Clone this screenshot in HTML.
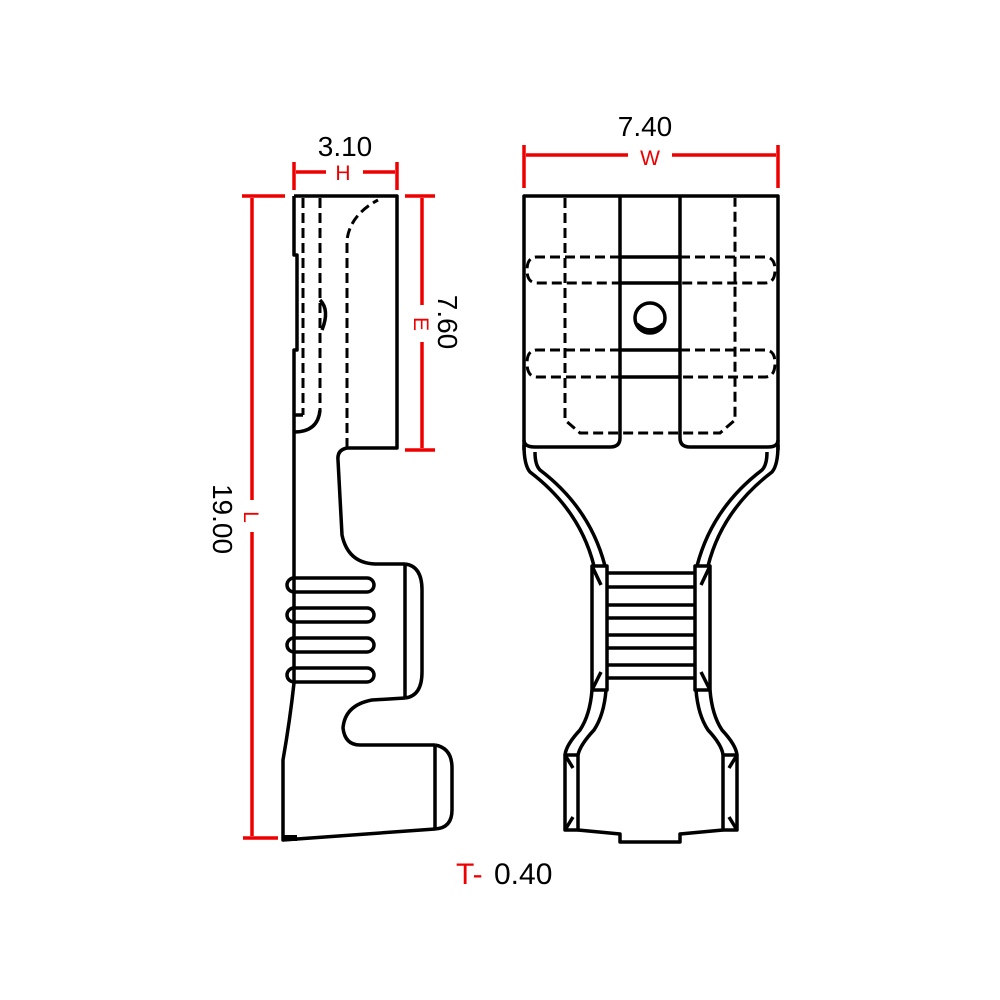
<!DOCTYPE html>
<html><head><meta charset="utf-8"><style>
html,body{margin:0;padding:0;background:#fff;}
svg{display:block;}
text{font-family:"Liberation Sans",sans-serif;}
</style></head><body>
<svg width="1000" height="1000" viewBox="0 0 1000 1000" xmlns="http://www.w3.org/2000/svg">
<rect width="1000" height="1000" fill="#fff"/>
<g stroke="#e00" stroke-width="3.5" fill="none">
  <line x1="294" y1="162" x2="294" y2="190"/>
  <line x1="397" y1="162" x2="397" y2="190"/>
  <line x1="296" y1="172" x2="326" y2="172"/>
  <line x1="363" y1="172" x2="395" y2="172"/>
  <line x1="524" y1="145" x2="524" y2="188"/>
  <line x1="778" y1="145" x2="778" y2="188"/>
  <line x1="526" y1="155" x2="628" y2="155"/>
  <line x1="672" y1="155" x2="776" y2="155"/>
  <line x1="242" y1="196" x2="285" y2="196"/>
  <line x1="243" y1="838" x2="278" y2="838"/>
  <line x1="252" y1="198" x2="252" y2="500"/>
  <line x1="252" y1="532" x2="252" y2="836"/>
  <line x1="405" y1="196" x2="435" y2="196"/>
  <line x1="405" y1="450" x2="435" y2="450"/>
  <line x1="422" y1="198" x2="422" y2="305"/>
  <line x1="422" y1="342" x2="422" y2="448"/>
</g>
<g fill="#e00" font-size="21">
  <text x="343" y="180" text-anchor="middle">H</text>
  <text x="650" y="165" text-anchor="middle">W</text>
  <text transform="translate(244,517) rotate(90)" text-anchor="middle">L</text>
  <text transform="translate(414,324) rotate(90)" text-anchor="middle">E</text>
</g>
<g fill="#000" font-size="28">
  <text x="345" y="156" text-anchor="middle">3.10</text>
  <text x="645" y="136" text-anchor="middle">7.40</text>
  <text transform="translate(213,519) rotate(90)" text-anchor="middle">19.00</text>
  <text transform="translate(438,322) rotate(90)" text-anchor="middle">7.60</text>
</g>
<text x="456" y="884" font-size="30" fill="#e00">T-</text>
<text x="494" y="884" font-size="30" fill="#000">0.40</text>

<g stroke="#000" stroke-width="3.5" fill="none" stroke-linejoin="round">
  <path d="M294,196 L397,196 L397,448 L347,448"/>
  <path d="M294,196 L294,255 L297,255 L297,350 L294,350 L294,683 Q290,720 283,760 L283,840 L435,829"/>
  <path d="M347,448 Q337,450 338,460 L342,535 Q348,563 375,564 L405,564"/>
  <path d="M405,564 L405,698 M405,564 Q422,566 422,590 L422,672 Q422,696 405,698"/>
  <path d="M405,698 L372,700 Q345,705 343,728 Q345,745 360,745 L435,745"/>
  <path d="M435,745 L435,829 M435,745 Q452,748 452,768 L452,810 Q452,828 435,829"/>
  <rect x="287" y="578" width="87" height="14" rx="7"/>
  <rect x="287" y="608" width="87" height="14" rx="7"/>
  <rect x="287" y="638" width="87" height="14" rx="7"/>
  <rect x="287" y="668" width="87" height="14" rx="7"/>
  <path d="M294,415 L303,415 M294,432 Q318,432 320,410"/>
  <path d="M320,300 Q330,310 322,330"/>
</g>
<rect x="283" y="835" width="14" height="6" fill="#000"/>
<g stroke="#000" stroke-width="3" fill="none" stroke-dasharray="10,5">
  <line x1="303" y1="198" x2="303" y2="415"/>
  <line x1="320" y1="198" x2="320" y2="410"/>
  <path d="M347,448 L347,240 Q350,215 378,200"/>
</g>

<g stroke="#000" stroke-width="3.5" fill="none" stroke-linejoin="round">
  <path d="M524,450 L524,196 L778,196 L778,450"/>
  <path d="M620,196 Q620,196 620,205 L620,438 Q620,447 610,447 L535,447 Q524,447 524,440"/>
  <path d="M680,196 L680,438 Q680,447 690,447 L768,447 Q778,447 778,440"/>
  <line x1="620" y1="257" x2="680" y2="257"/>
  <line x1="620" y1="283" x2="680" y2="283"/>
  <line x1="620" y1="350" x2="680" y2="350"/>
  <line x1="620" y1="377" x2="680" y2="377"/>
  <circle cx="650" cy="318" r="15"/>
  <path d="M637,324 Q650,336 663,324"/>
  <path d="M524,445 Q524,465 530,472 Q580,510 594,566"/>
  <path d="M535,452 Q535,465 540,470 Q590,508 605,566"/>
  <path d="M778,445 Q778,465 772,472 Q722,510 708,566"/>
  <path d="M767,452 Q767,465 762,470 Q712,508 697,566"/>
  <rect x="592" y="566" width="15" height="124"/>
  <rect x="695" y="566" width="15" height="124"/>
  <path d="M592,566 L601,585 M592,690 L601,672 M710,566 L701,585 M710,690 L701,672"/>
  <line x1="607" y1="573" x2="695" y2="573"/>
  <line x1="607" y1="587" x2="695" y2="587"/>
  <line x1="607" y1="605" x2="695" y2="605"/>
  <line x1="607" y1="618" x2="695" y2="618"/>
  <line x1="607" y1="635" x2="695" y2="635"/>
  <line x1="607" y1="648" x2="695" y2="648"/>
  <line x1="607" y1="665" x2="695" y2="665"/>
  <line x1="607" y1="678" x2="695" y2="678"/>
  <path d="M592,690 Q590,715 580,730 Q566,745 565,755"/>
  <path d="M606,690 Q604,715 594,730 Q580,745 578,755"/>
  <path d="M710,690 Q712,715 722,730 Q736,745 737,755"/>
  <path d="M696,690 Q698,715 708,730 Q722,745 723,755"/>
  <rect x="565" y="755" width="13" height="75"/>
  <rect x="723" y="755" width="14" height="75"/>
  <path d="M565,755 L573,768 M565,830 L573,817 M737,755 L729,768 M737,830 L729,817"/>
  <path d="M578,830 L620,834 L620,842 L680,842 L680,834 L723,830"/>
</g>
<g stroke="#000" stroke-width="3" fill="none" stroke-dasharray="10,5">
  <path d="M565,198 L565,420 L580,433 L720,433 L735,420 L735,198"/>
  <path d="M620,257 L537,257 Q527,257 527,270 Q527,283 537,283 L620,283"/>
  <path d="M680,257 L765,257 Q775,257 775,270 Q775,283 765,283 L680,283"/>
  <path d="M620,350 L537,350 Q527,350 527,363 Q527,377 537,377 L620,377"/>
  <path d="M680,350 L765,350 Q775,350 775,363 Q775,377 765,377 L680,377"/>
</g>
</svg>
</body></html>
